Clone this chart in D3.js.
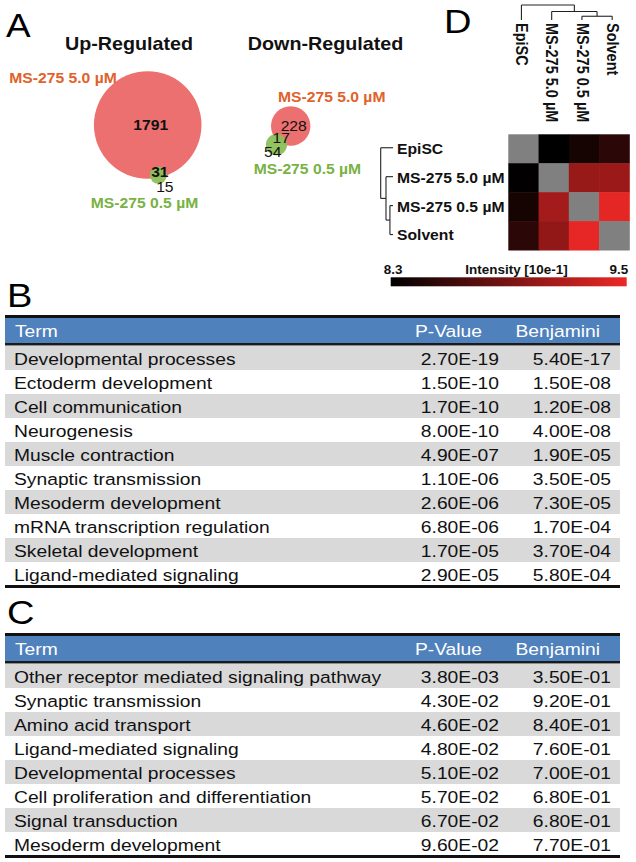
<!DOCTYPE html>
<html>
<head>
<meta charset="utf-8">
<script src="https://cdn.jsdelivr.net/npm/d3@7"></script>
<style>
  html, body { margin: 0; padding: 0; background: #fff; }
  svg { display: block; }
</style>
</head>
<body>
<svg id="chart" width="636" height="862"></svg>
<script>
// ---------------- DATA ----------------
// Panel A (Venn diagrams)
const vennTitles   = ["Up-Regulated", "Down-Regulated"];
const conditions   = ["MS-275 5.0 µM", "MS-275 0.5 µM"];
const only50       = [1791, 228];   // genes only in MS-275 5.0 µM
const shared       = [31, 17];      // overlap
const only05       = [15, 54];      // genes only in MS-275 0.5 µM

// Panel D (correlation heatmap)
const samples = ["EpiSC", "MS-275 5.0 µM", "MS-275 0.5 µM", "Solvent"];
const intensity = [
  [null, 8.30, 8.41, 8.52],
  [8.31, null, 9.06, 9.08],
  [8.41, 9.12, null, 9.45],
  [8.52, 9.03, 9.46, null]
];
const intensityRange = [8.3, 9.5];
const colorbarTicks  = ["8.3", "9.5"];
const colorbarTitle  = "Intensity [10e-1]";
// clustering: [childA, childB, mergeHeight]
const merges = [
  ["MS-275 0.5 µM", "Solvent", 0.25],
  ["MS-275 5.0 µM", "n1", 0.57],
  ["EpiSC", "n2", 1.0]
];

// Panel B / C (tables)
const tableHeaders = ["Term", "P-Value", "Benjamini"];
const termsB = ["Developmental processes", "Ectoderm development", "Cell communication", "Neurogenesis",
  "Muscle contraction", "Synaptic transmission", "Mesoderm development", "mRNA transcription regulation",
  "Skeletal development", "Ligand-mediated signaling"];
const pValB  = ["2.70E-19", "1.50E-10", "1.70E-10", "8.00E-10", "4.90E-07", "1.10E-06", "2.60E-06", "6.80E-06", "1.70E-05", "2.90E-05"];
const benjB  = ["5.40E-17", "1.50E-08", "1.20E-08", "4.00E-08", "1.90E-05", "3.50E-05", "7.30E-05", "1.70E-04", "3.70E-04", "5.80E-04"];
const termsC = ["Other receptor mediated signaling pathway", "Synaptic transmission", "Amino acid transport",
  "Ligand-mediated signaling", "Developmental processes", "Cell proliferation and differentiation",
  "Signal transduction", "Mesoderm development"];
const pValC  = ["3.80E-03", "4.30E-02", "4.60E-02", "4.80E-02", "5.10E-02", "5.70E-02", "6.70E-02", "9.60E-02"];
const benjC  = ["3.50E-01", "9.20E-01", "8.40E-01", "7.60E-01", "7.00E-01", "6.80E-01", "6.80E-01", "7.70E-01"];

// ---------------- HELPERS ----------------
const FONT = "'Liberation Sans', Arial, Helvetica, sans-serif";
const SX = 1.12; // horizontal stretch of the original figure
const svg = d3.select("#chart");
svg.append("rect").attr("width", 636).attr("height", 862).attr("fill", "#fff");

function T(parent, x, y, s, o = {}) {
  let tr = `translate(${x},${y}) scale(${SX},1)`;
  if (o.rotate) tr += ` rotate(${o.rotate})`;
  return parent.append("text")
    .attr("transform", tr)
    .attr("text-anchor", o.anchor || "start")
    .attr("dy", o.dy || 0)
    .style("font-family", FONT)
    .style("font-size", (o.size || 14) + "px")
    .style("font-weight", o.weight || "normal")
    .attr("fill", o.fill || "#000")
    .text(s);
}

// ---------------- PANEL LETTERS ----------------
T(svg, 6, 37, "A", {size: 33});
T(svg, 7, 307, "B", {size: 34});
T(svg, 7, 624, "C", {size: 34});
T(svg, 444, 33, "D", {size: 34});

// ---------------- PANEL A: VENN ----------------
const ORANGE = "#e0622a", GREEN = "#77b243";
const RED_FILL = "#ec7070", GREEN_FILL = "#8cbf5a";
const maxTotal = d3.max(only50.map((v, i) => v + shared[i]));
const rScale = d3.scaleSqrt().domain([0, maxTotal]).range([0, 1.26 * Math.sqrt(maxTotal)]);

function lens(r1, r2, d) {
  if (d >= r1 + r2) return 0;
  if (d <= Math.abs(r1 - r2)) return Math.PI * Math.min(r1, r2) ** 2;
  const a = r1 * r1 * Math.acos((d * d + r1 * r1 - r2 * r2) / (2 * d * r1));
  const b = r2 * r2 * Math.acos((d * d + r2 * r2 - r1 * r1) / (2 * d * r2));
  const c = 0.5 * Math.sqrt((-d + r1 + r2) * (d + r1 - r2) * (d - r1 + r2) * (d + r1 + r2));
  return a + b - c;
}
function solveD(r1, r2, area) {
  let lo = Math.abs(r1 - r2), hi = r1 + r2;
  for (let k = 0; k < 60; k++) {
    const mid = (lo + hi) / 2;
    if (lens(r1, r2, mid) > area) lo = mid; else hi = mid;
  }
  return (lo + hi) / 2;
}

// layout per diagram (placement only)
const vennLayout = [
  {cx: 147.7, cy: 125, angle: 78, titleX: 129, lab1: [63, 82.7], lab2: [144.5, 208],
   nBig: [3, 5], nShared: [1.5, 2], nSmall: [6.5, 16.7], boldShared: true, bigBold: true},
  {cx: 290.7, cy: 126, angle: 127.4, titleX: 325.5, lab1: [331.7, 101.7], lab2: [307.4, 174],
   nBig: [3, 4.7], nShared: [4.7, -1.2], nSmall: [-3.8, 12.8], boldShared: false, bigBold: false}
];
const unitArea = Math.PI * rScale(1) ** 2;

vennTitles.forEach((title, i) => {
  const L = vennLayout[i];
  const g = svg.append("g");
  T(g, L.titleX, 50, title, {size: 17.6, weight: "bold", anchor: "middle", fill: "#111"});
  const r1 = rScale(only50[i] + shared[i]);
  const r2 = rScale(only05[i] + shared[i]);
  const d = solveD(r1, r2, shared[i] * unitArea);
  const a = L.angle * Math.PI / 180;
  const sx = L.cx + d * Math.cos(a), sy = L.cy + d * Math.sin(a);
  g.append("circle").attr("cx", L.cx).attr("cy", L.cy).attr("r", r1).attr("fill", RED_FILL);
  g.append("circle").attr("cx", sx).attr("cy", sy).attr("r", r2).attr("fill", GREEN_FILL).attr("fill-opacity", 0.95);
  T(g, L.lab1[0], L.lab1[1], conditions[0], {size: 14, weight: "bold", anchor: "middle", fill: ORANGE});
  T(g, L.lab2[0], L.lab2[1], conditions[1], {size: 14, weight: "bold", anchor: "middle", fill: GREEN});
  T(g, L.cx + L.nBig[0], L.cy + L.nBig[1], only50[i], {size: 14, weight: L.bigBold ? "bold" : "normal", anchor: "middle", fill: "#111"});
  T(g, sx + L.nShared[0], sy + L.nShared[1], shared[i], {size: 14, weight: L.boldShared ? "bold" : "normal", anchor: "middle", fill: "#111"});
  T(g, sx + L.nSmall[0], sy + L.nSmall[1], only05[i], {size: 14, anchor: "middle", fill: "#111"});
});

// ---------------- PANEL D: HEATMAP ----------------
const hx = d3.scaleBand().domain(samples).range([508.3, 629.3]);
const hy = d3.scaleBand().domain(samples).range([134.3, 250]);
const color = d3.scaleLinear().domain(intensityRange).range(["#000000", "#ee2826"]).clamp(true);
const gD = svg.append("g");
const cells = [];
intensity.forEach((row, i) => row.forEach((v, j) => cells.push({r: samples[i], c: samples[j], v})));
gD.selectAll("rect.cell").data(cells).join("rect").attr("class", "cell")
  .attr("x", d => hx(d.c)).attr("y", d => hy(d.r))
  .attr("width", hx.bandwidth() + 0.5).attr("height", hy.bandwidth() + 0.5)
  .attr("fill", d => d.v == null ? "#808080" : color(d.v));

// row labels
samples.forEach(s => T(gD, 397, hy(s) + hy.bandwidth() / 2, s, {size: 14, weight: "bold", dy: "0.35em", fill: "#111"}));
// column labels (rotated)
samples.forEach(s => T(gD, hx(s) + hx.bandwidth() / 2 - 1.5, 23, s, {size: 14.5, weight: "bold", rotate: 90, dy: "0.35em", fill: "#111"}));

// dendrograms
function buildTree() {
  const nodes = {};
  samples.forEach(s => nodes[s] = {name: s, h: 0, leaf: true});
  merges.forEach((m, k) => nodes["n" + (k + 1)] = {name: "n" + (k + 1), h: m[2], children: [nodes[m[0]], nodes[m[1]]]});
  return nodes["n" + merges.length];
}
const tree = buildTree();
function drawDendro(node, posOf, hScale, horizontal, g) {
  if (node.leaf) { node.pos = posOf(node.name); return; }
  node.children.forEach(c => drawDendro(c, posOf, hScale, horizontal, g));
  node.pos = d3.mean(node.children, c => c.pos);
  const hv = hScale(node.h);
  const [a, b] = node.children;
  const line = (x1, y1, x2, y2) => g.append("line").attr("x1", x1).attr("y1", y1).attr("x2", x2).attr("y2", y2)
    .attr("stroke", "#222").attr("stroke-width", 1.1);
  if (horizontal) { // row dendrogram on the left
    line(hv, a.pos, hv, b.pos);
    node.children.forEach(c => line(hv, c.pos, hScale(c.h), c.pos));
  } else { // column dendrogram on top
    line(a.pos, hv, b.pos, hv);
    node.children.forEach(c => line(c.pos, hv, c.pos, hScale(c.h)));
  }
}
drawDendro(tree, s => hy(s) + hy.bandwidth() / 2 - 1, d3.scaleLinear().domain([0, 1]).range([393, 380.7]), true, gD);
const tree2 = buildTree();
drawDendro(tree2, s => hx(s) + hx.bandwidth() / 2 - 2, d3.scaleLinear().domain([0, 1]).range([20, 5]), false, gD);

// colorbar
const defs = svg.append("defs");
const grad = defs.append("linearGradient").attr("id", "cbar").attr("x1", "0%").attr("x2", "100%");
d3.range(0, 1.0001, 0.1).forEach(t => grad.append("stop").attr("offset", (t * 100) + "%")
  .attr("stop-color", color(intensityRange[0] + t * (intensityRange[1] - intensityRange[0]))));
const cb = d3.scaleLinear().domain(intensityRange).range([390.7, 626.7]);
gD.append("rect").attr("x", cb.range()[0]).attr("y", 277.3).attr("width", cb.range()[1] - cb.range()[0]).attr("height", 9)
  .attr("fill", "url(#cbar)");
T(gD, cb(intensityRange[0]) - 7, 274, colorbarTicks[0], {size: 12, weight: "bold", fill: "#111"});
T(gD, cb(intensityRange[1]) + 1.5, 274, colorbarTicks[1], {size: 12, weight: "bold", anchor: "end", fill: "#111"});
T(gD, 516.5, 274, colorbarTitle, {size: 12, weight: "bold", anchor: "middle", fill: "#111"});

// ---------------- TABLES B & C ----------------
const TFS = 17.2;
function drawTable(top, terms, pv, bj) {
  const g = svg.append("g");
  const left = 5, right = 620, headH = 25, rowH = 24;
  const rowsTop = top + 3 + headH + 3;
  const ry = d3.scaleBand().domain(d3.range(terms.length)).range([rowsTop, rowsTop + rowH * terms.length]);
  // header
  g.append("rect").attr("x", left).attr("y", top + 3).attr("width", right - left).attr("height", headH).attr("fill", "#4f81bd");
  g.append("rect").attr("x", left).attr("y", top).attr("width", right - left).attr("height", 3).attr("fill", "#111");
  g.append("rect").attr("x", left).attr("y", top + 3 + headH).attr("width", right - left).attr("height", 2.5).attr("fill", "#1a1a1a");
  T(g, 15, top + 3 + 19, tableHeaders[0], {size: TFS, fill: "#fff"});
  T(g, 482, top + 3 + 19, tableHeaders[1], {size: TFS, fill: "#fff", anchor: "end"});
  T(g, 600, top + 3 + 19, tableHeaders[2], {size: TFS, fill: "#fff", anchor: "end"});
  // rows
  g.selectAll("rect.row").data(terms).join("rect").attr("class", "row")
    .attr("x", left).attr("y", (d, i) => ry(i)).attr("width", right - left).attr("height", ry.bandwidth())
    .attr("fill", (d, i) => i % 2 === 0 ? "#d9d9d9" : "#ffffff");
  terms.forEach((t, i) => {
    const by = ry(i) + 19;
    T(g, 14, by, t, {size: TFS, fill: "#111"});
    T(g, 499, by, pv[i], {size: TFS, fill: "#111", anchor: "end"});
    T(g, 611, by, bj[i], {size: TFS, fill: "#111", anchor: "end"});
  });
  const bottom = rowsTop + rowH * terms.length;
  g.append("rect").attr("x", left).attr("y", bottom - 1).attr("width", right - left).attr("height", 3).attr("fill", "#111");
}
drawTable(315, termsB, pValB, benjB);
drawTable(633, termsC, pValC, benjC);
</script>
</body>
</html>
